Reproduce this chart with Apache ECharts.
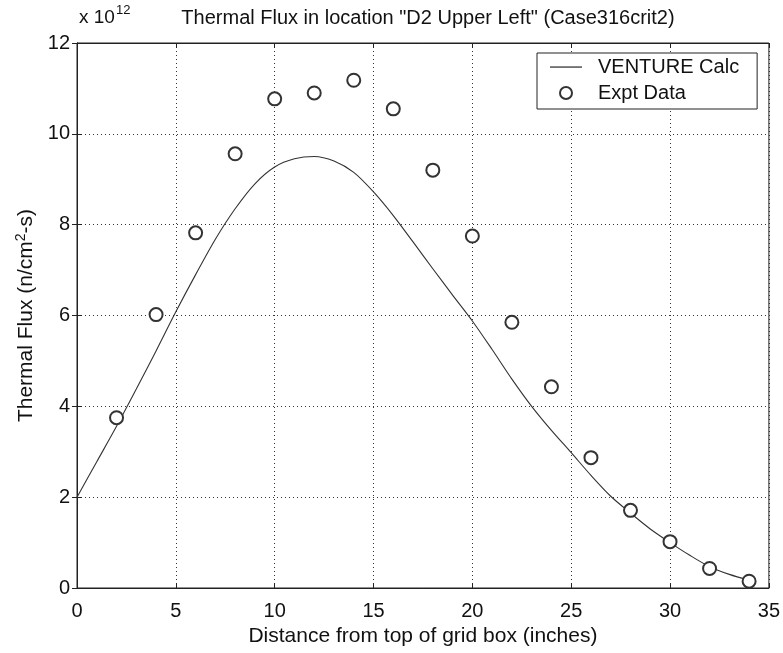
<!DOCTYPE html>
<html><head><meta charset="utf-8">
<script src="https://cdn.jsdelivr.net/npm/echarts@6/dist/echarts.min.js"></script>
<style>html,body{margin:0;padding:0;background:#fff}#c{width:783px;height:653px}</style>
</head><body><div id="c"></div>
<script>
// Values in units of 1e12 n/cm^2-s
const calcX = [0,1,2,3,4,5,6,7,8,9,10,11,12,13,14,15,16,17,18,19,20,21,22,23,24,25,26,27,28,29,30,31,32,33,34];
const calcY = [2.0,2.78,3.56,4.38,5.22,6.08,6.9,7.68,8.35,8.9,9.27,9.45,9.5,9.4,9.15,8.72,8.2,7.62,7.03,6.45,5.88,5.25,4.6,4.0,3.47,2.98,2.48,2.02,1.65,1.3,1.0,0.72,0.47,0.3,0.17];
const expX = [2,4,6,8,10,12,14,16,18,20,22,24,26,28,30,32,34];
const expY = [3.75,6.02,7.82,9.56,10.77,10.9,11.18,10.55,9.2,7.75,5.85,4.43,2.87,1.71,1.02,0.43,0.15];
const xTicks = [0,5,10,15,20,25,30,35];
const yTicks = [0,2,4,6,8,10,12];
const titleText = 'Thermal Flux in location "D2 Upper Left" (Case316crit2)';
const xName = 'Distance from top of grid box (inches)';

const FONT = '"Liberation Sans", Arial, sans-serif';
const FS = 20;
const NFS = 21;
const chart = echarts.init(document.getElementById('c'), null, {renderer:'canvas'});
const gridLine = {show:true, lineStyle:{color:'#333', type:[1,3], width:1}};
const tick = {show:true, inside:true, length:5, lineStyle:{color:'#222'}};
chart.setOption({
  animation:false,
  backgroundColor:'#fff',
  title:[
    {text:titleText, left:423, textAlign:'center', top:3,
     textStyle:{fontFamily:FONT, fontSize:FS, fontWeight:'normal', color:'#111'}},
    {text:'{a|x 10}{b|12}', left:79, top:1, padding:0,
     textStyle:{fontWeight:'normal', rich:{a:{fontFamily:FONT, fontSize:19, fontWeight:'normal', color:'#111', padding:[7,0,0,0]},
                      b:{fontFamily:FONT, fontSize:13, fontWeight:'normal', color:'#111', padding:[0,0,8,1]}}}}
  ],
  grid:{left:77, right:13, top:43, bottom:65, show:true, borderColor:'#222', borderWidth:1},
  legend:{
    orient:'vertical', left:537, top:53,
    backgroundColor:'#fff', borderColor:'#222', borderWidth:1,
    padding:[4,18,6,13], itemWidth:32, itemHeight:12, itemGap:6,
    textStyle:{fontFamily:FONT, fontSize:FS, color:'#111', padding:[0,0,0,11]},
    data:[{name:'VENTURE Calc', icon:'path://M0,0L0,0M0,5.5L32,5.5L32,6.6L0,6.6ZM32,12L32,12', itemStyle:{color:'#111'}}, 'Expt Data']
  },
  xAxis:[{
    type:'value', min:xTicks[0], max:xTicks[xTicks.length-1], interval:5,
    name:xName, nameLocation:'middle', nameGap:34,
    nameTextStyle:{fontFamily:FONT, fontSize:NFS, color:'#111'},
    axisLine:{show:true, onZero:false, lineStyle:{color:'#222'}},
    axisTick:tick,
    axisLabel:{fontFamily:FONT, fontSize:FS, color:'#111', margin:13},
    splitLine:gridLine
  },{
    type:'value', position:'top', min:xTicks[0], max:xTicks[xTicks.length-1], interval:5,
    axisLine:{show:true, onZero:false, lineStyle:{color:'#222'}},
    axisTick:tick, axisLabel:{show:false}, splitLine:{show:false}
  }],
  yAxis:[{
    type:'value', min:yTicks[0], max:yTicks[yTicks.length-1], interval:2,
    name:'Thermal Flux (n/cm{sup|2}-s)', nameLocation:'middle', nameGap:31,
    nameTextStyle:{fontFamily:FONT, fontSize:NFS, color:'#111',
      rich:{sup:{fontFamily:FONT, fontSize:14, color:'#111', padding:[0,0,10,0]}}},
    axisLine:{show:true, lineStyle:{color:'#222'}},
    axisTick:tick,
    axisLabel:{fontFamily:FONT, fontSize:FS, color:'#111', margin:7},
    splitLine:gridLine
  },{
    type:'value', position:'right', min:yTicks[0], max:yTicks[yTicks.length-1], interval:2,
    axisLine:{show:true, lineStyle:{color:'#222'}},
    axisTick:tick, axisLabel:{show:false}, splitLine:{show:false}
  }],
  series:[
    {name:'VENTURE Calc', type:'line', data:calcX.map((x,i)=>[x,calcY[i]]),
     symbol:'none', smooth:0.3, lineStyle:{color:'#333', width:1.1}, itemStyle:{color:'#333'}, z:3},
    {name:'Expt Data', type:'scatter', data:expX.map((x,i)=>[x,expY[i]]),
     symbol:'emptyCircle', symbolSize:13,
     itemStyle:{color:'#333', borderWidth:1, opacity:1}, z:4}
  ]
});
</script></body></html>
